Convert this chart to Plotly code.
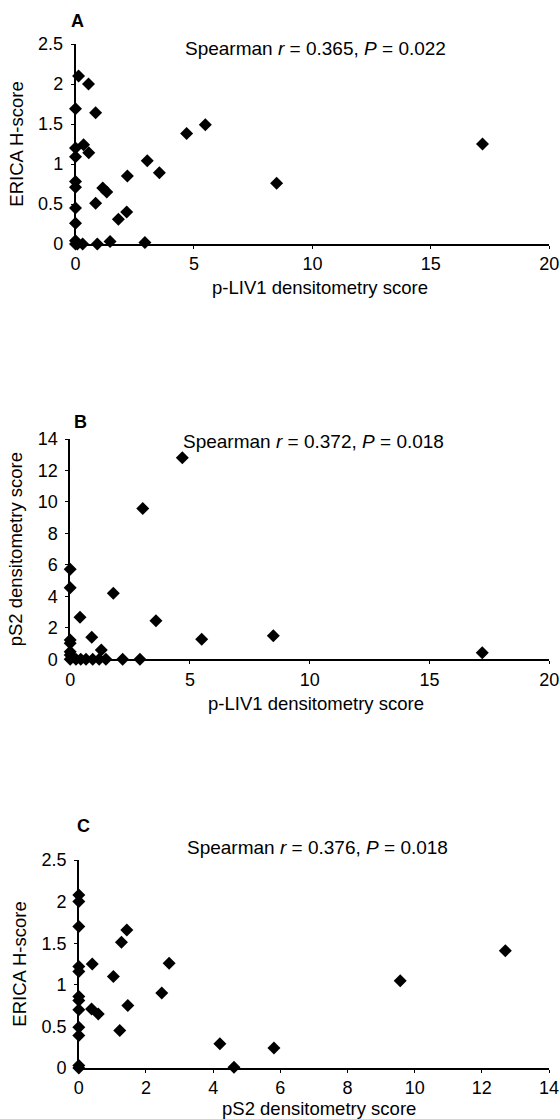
import plotly.graph_objects as go

# ---------------- data ----------------
# Panel A: p-LIV1 densitometry score vs ERICA H-score
a_pliv1 = [0.13, 0.55, 0, 0.85, 0, 0.34, 0.56, 0, 3.03, 3.54, 0, 0, 2.19, 1.15, 1.32,
           0.85, 0, 2.16, 1.81, 0, 0, 0.08, 0.3, 0.92, 1.46, 2.93, 0, 4.69, 5.48, 8.49, 17.18]
a_erica = [2.1, 2.0, 1.69, 1.64, 1.2, 1.24, 1.14, 1.09, 1.04, 0.89, 0.78, 0.71, 0.85, 0.70, 0.65,
           0.51, 0.45, 0.40, 0.31, 0.26, 0.04, 0, 0, 0, 0.03, 0.02, 0, 1.38, 1.49, 0.76, 1.25]

# Panel B: p-LIV1 densitometry score vs pS2 densitometry score
b_pliv1 = [4.68, 3.03, 0, 0, 1.8, 0.41, 3.58, 0.9, 5.49, 8.48, 0, 0, 1.3, 0, 0, 17.2,
           0, 0.24, 0.44, 0.66, 0.94, 1.21, 1.49, 2.19, 2.91]
b_ps2 = [12.81, 9.59, 5.72, 4.55, 4.19, 2.67, 2.45, 1.4, 1.27, 1.5, 1.23, 1.02, 0.59, 0.48, 0.27, 0.42,
         0, 0, 0, 0, 0, 0, 0, 0, 0]

# Panel C: pS2 densitometry score vs ERICA H-score
c_ps2 = [0, 0, 0, 0, 0, 0.4, 1.43, 1.27, 1.03, 2.69, 0, 0, 0, 0.38, 0.58, 1.46, 2.47,
         0, 0, 1.22, 0, 0, 4.2, 4.62, 5.81, 9.57, 12.7]
c_erica = [2.08, 2.0, 1.7, 1.22, 1.16, 1.25, 1.66, 1.51, 1.10, 1.26, 0.86, 0.81, 0.70, 0.71, 0.65,
           0.75, 0.90, 0.49, 0.39, 0.45, 0.03, 0, 0.29, 0.01, 0.24, 1.05, 1.41]

panel_labels = ["A", "B", "C"]
stats_text = ["Spearman <i>r</i> = 0.365, <i>P</i> = 0.022",
              "Spearman <i>r</i> = 0.372, <i>P</i> = 0.018",
              "Spearman <i>r</i> = 0.376, <i>P</i> = 0.018"]
x_titles = ["p-LIV1 densitometry score", "p-LIV1 densitometry score", "pS2 densitometry score"]
y_titles = ["ERICA H-score", "pS2 densitometry score", "ERICA H-score"]

# ---------------- layout helpers ----------------
W, H = 560, 1119
FONT = "Liberation Sans, Arial, Helvetica, sans-serif"


def px_x(p):
    return p / W


def px_y(p):
    return 1 - p / H


# plot-area pixel boxes (left, right, top, bottom)
boxes = [(75.5, 549.3, 44, 244), (70.2, 549.3, 439, 659.3), (78.8, 549.0, 860.0, 1068.0)]
x_ranges = [[0, 20], [0, 20], [0, 14]]
y_ranges = [[0, 2.5], [0, 14], [0, 2.5]]
x_dticks = [5, 5, 2]
y_dticks = [0.5, 2, 0.5]
xs = [a_pliv1, b_pliv1, c_ps2]
ys = [a_erica, b_ps2, c_erica]

letter_pos = [(77, 21), (80, 421.7), (83, 826)]
stat_pos = [(315, 48), (313.5, 441.7), (317.5, 847)]
xtitle_pos = [(320, 288), (316, 703), (319, 1108)]

fig = go.Figure()
annotations = []
for i in range(3):
    sfx = "" if i == 0 else str(i + 1)
    fig.add_trace(go.Scatter(
        x=xs[i], y=ys[i], mode="markers",
        marker=dict(symbol="diamond", size=10, color="black"),
        xaxis="x" + sfx, yaxis="y" + sfx, cliponaxis=False, showlegend=False,
        hoverinfo="skip",
    ))
    l, r, t, b = boxes[i]
    axis_common = dict(
        showline=True, linecolor="black", linewidth=1.5, showgrid=False, zeroline=False,
        ticks="outside", ticklen=3, tickwidth=1, tickcolor="black",
        tickfont=dict(family=FONT, size=18, color="black"),
        fixedrange=True, automargin=False, ticklabeloverflow="allow",
    )
    fig.layout["xaxis" + sfx] = dict(
        axis_common, domain=[px_x(l), px_x(r)], range=x_ranges[i], dtick=x_dticks[i], tick0=0,
        anchor="y" + sfx,
    )
    fig.layout["yaxis" + sfx] = dict(
        axis_common, domain=[px_y(b), px_y(t)], range=y_ranges[i], dtick=y_dticks[i], tick0=0,
        anchor="x" + sfx, ticklabelstandoff=4,
        title=dict(text=y_titles[i], font=dict(family=FONT, size=18.5, color="black"), standoff=10),
    )
    # x-axis title
    annotations.append(dict(
        text=x_titles[i], x=px_x(xtitle_pos[i][0]), y=px_y(xtitle_pos[i][1]),
        xref="paper", yref="paper", showarrow=False, xanchor="center", yanchor="middle",
        font=dict(family=FONT, size=18.5, color="black"),
    ))
    # panel letter
    annotations.append(dict(
        text="<b>" + panel_labels[i] + "</b>", x=px_x(letter_pos[i][0]), y=px_y(letter_pos[i][1]),
        xref="paper", yref="paper", showarrow=False, xanchor="center", yanchor="middle",
        font=dict(family=FONT, size=18, color="black"),
    ))
    # statistics text
    annotations.append(dict(
        text=stats_text[i], x=px_x(stat_pos[i][0]), y=px_y(stat_pos[i][1]),
        xref="paper", yref="paper", showarrow=False, xanchor="center", yanchor="middle",
        font=dict(family=FONT, size=19, color="black"),
    ))

fig.update_layout(
    width=W, height=H,
    margin=dict(l=0, r=0, t=0, b=0, autoexpand=False),
    paper_bgcolor="white", plot_bgcolor="white",
    annotations=annotations,
    font=dict(family=FONT, size=18, color="black"),
    hovermode=False,
)

fig.write_html(
    "out.html",
    config={"displayModeBar": False},
    post_script="document.body.style.margin='0';document.body.style.overflow='hidden';",
)
